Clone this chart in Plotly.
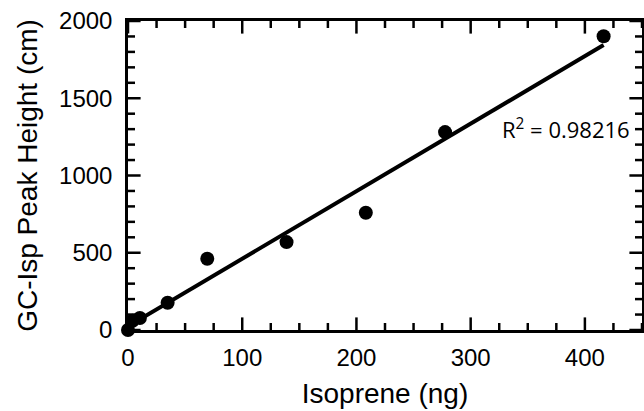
import numpy as np
import plotly.graph_objects as go

isoprene_ng = [0, 4, 10.4, 34.7, 69.4, 138.8, 208.2, 277.6, 416.4]
peak_height_cm = [0, 60, 78, 176, 461, 569, 759, 1281, 1901]
r2_label = "R<sup>2</sup> = 0.98216"

X_RANGE = [0, 450]
Y_RANGE = [0, 2000]
X_MAJOR, X_MINOR = 100, 25
Y_MAJOR, Y_MINOR = 500, 100

slope, intercept = np.polyfit(isoprene_ng, peak_height_cm, 1)
fit_x = [min(isoprene_ng), max(isoprene_ng)]
fit_y = [slope * v + intercept for v in fit_x]

fig = go.Figure()


def tick_marks(values, fixed, vertical, size):
    # inward tick marks: a line symbol centred on the frame, the outer half clipped away
    values = list(values)
    if vertical:
        xs, ys, sym = values, [fixed] * len(values), "line-ns-open"
    else:
        xs, ys, sym = [fixed] * len(values), values, "line-ew-open"
    fig.add_trace(go.Scatter(
        x=xs, y=ys, mode="markers", cliponaxis=True, hoverinfo="skip",
        showlegend=False,
        marker=dict(symbol=sym, size=size, color="black",
                    line=dict(color="black", width=2.5))))


x_major = np.arange(X_RANGE[0], X_RANGE[1] + 1, X_MAJOR)
x_minor = [v for v in np.arange(X_RANGE[0], X_RANGE[1] + 1, X_MINOR) if v % X_MAJOR]
y_major = np.arange(Y_RANGE[0], Y_RANGE[1] + 1, Y_MAJOR)
y_minor = [v for v in np.arange(Y_RANGE[0], Y_RANGE[1] + 1, Y_MINOR) if v % Y_MAJOR]

for edge in Y_RANGE:
    tick_marks(x_major, edge, True, 18)
    tick_marks(x_minor, edge, True, 10)
for edge in X_RANGE:
    tick_marks(y_major, edge, False, 18)
    tick_marks(y_minor, edge, False, 10)

fig.add_trace(go.Scatter(x=fit_x, y=fit_y, mode="lines",
                         line=dict(color="black", width=4),
                         showlegend=False, cliponaxis=False))
fig.add_trace(go.Scatter(x=isoprene_ng, y=peak_height_cm, mode="markers",
                         marker=dict(color="black", size=14),
                         showlegend=False, cliponaxis=False))

tick_font = dict(family="Liberation Sans, Arial", size=24, color="black")
title_font = dict(family="Liberation Sans, Arial", size=28, color="black")

fig.update_layout(
    width=644, height=411,
    margin=dict(l=128, r=2, t=21, b=81),
    plot_bgcolor="white", paper_bgcolor="white",
    xaxis=dict(
        range=X_RANGE, tickmode="linear", tick0=0, dtick=X_MAJOR,
        showgrid=False, zeroline=False, showline=True, linecolor="black",
        linewidth=2.5, mirror=True, ticks="", ticklabelstandoff=4,
        tickfont=tick_font, automargin=False,
        title=dict(text="Isoprene (ng)", standoff=14, font=title_font),
    ),
    yaxis=dict(
        range=Y_RANGE, tickmode="linear", tick0=0, dtick=Y_MAJOR,
        showgrid=False, zeroline=False, showline=True, linecolor="black",
        linewidth=2.5, mirror=True, ticks="", ticklabelstandoff=8,
        tickfont=tick_font, automargin=False,
        title=dict(text="GC-Isp Peak Height (cm)", standoff=14, font=title_font),
    ),
)

fig.add_annotation(x=0.98, y=0.652, xref="paper", yref="paper",
                   xanchor="right", yanchor="middle", showarrow=False,
                   text=r2_label,
                   font=dict(family="Open Sans", size=22, color="black"))

fig.write_html("out.html", config={"displayModeBar": False},
               post_script="document.body.style.margin='0px';")
